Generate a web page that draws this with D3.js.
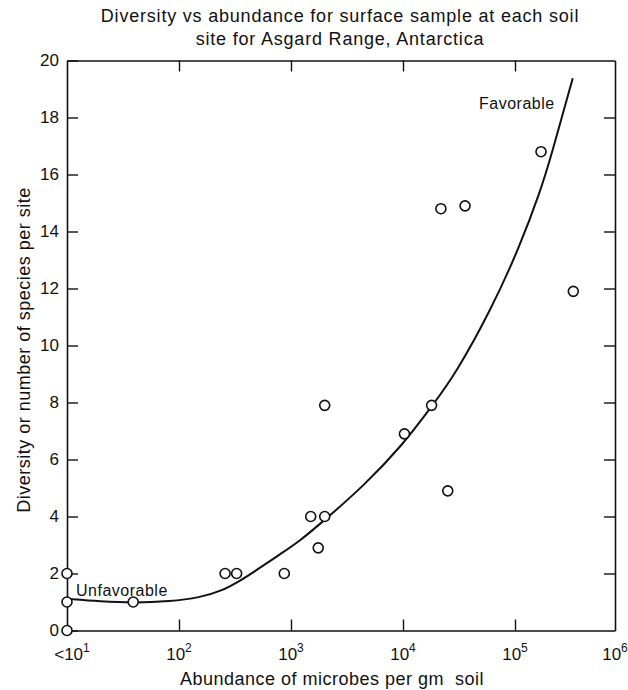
<!DOCTYPE html>
<html>
<head>
<meta charset="utf-8">
<script src="https://cdn.jsdelivr.net/npm/d3@7"></script>
<style>
  body { margin: 0; background: #fff; }
  text { font-family: "Liberation Sans", Arial, sans-serif; fill: #111; white-space: pre; }
</style>
</head>
<body>
<div id="viz"></div>
<script>
// title / labels
var titleLines = ["Diversity vs abundance for surface sample at each soil",
                  "site for Asgard Range, Antarctica"];
var xTitle = "Abundance of microbes per gm  soil";
var yTitle = "Diversity or number of species per site";

// ticks
var xTicks = [10, 1e2, 1e3, 1e4, 1e5, 1e6];
var xTickBase = ["<10", "10", "10", "10", "10", "10"];
var xTickExp = ["1", "2", "3", "4", "5", "6"];
var yTicks = [0, 2, 4, 6, 8, 10, 12, 14, 16, 18, 20];

// soil sites (abundance per gm, number of species)
var abundance = [10, 10, 10, 39, 258, 327, 871, 1500, 1750, 2000, 2000, 10300, 18000, 21800, 25100, 35800, 182000, 383000];
var diversity = [0, 1, 2, 1, 2, 2, 2, 4, 2.9, 4, 7.9, 6.9, 7.9, 14.8, 4.9, 14.9, 16.8, 11.9];

// hand drawn trend curve
var curveAbundance = [10, 20, 39, 83, 155, 234, 351, 525, 794, 1200, 2000, 4400, 10000, 18500, 29100, 61100, 112000, 178000, 224000, 378000];
var curveDiversity = [1.11, 1.02, 0.97, 1.02, 1.16, 1.37, 1.74, 2.19, 2.67, 3.14, 3.88, 5.05, 6.52, 7.92, 8.97, 11.25, 13.49, 15.39, 16.51, 19.38];

var w = 628, h = 690;
var mLeft = 67, mRight = 615, mTop = 60.5, mBottom = 630.5;

var svg = d3.select("#viz").append("svg")
  .attr("width", w)
  .attr("height", h);

// the drawn decades are not all the same length, last one is short
var x = d3.scaleLog().domain([10, 1e5, 1e6]).range([mLeft, 515, mRight]);
var y = d3.scaleLinear().domain([0, 20]).range([mBottom, mTop]);

function styleAxis(g) {
  g.select(".domain").attr("stroke", "#111").attr("stroke-width", 1.6);
  g.selectAll(".tick line").attr("stroke", "#111").attr("stroke-width", 1.4);
  g.selectAll("text").style("font-size", "17px").attr("fill", "#111")
    .style("font-family", "Liberation Sans, Arial, sans-serif");
}

svg.append("g")
  .attr("transform", "translate(0," + mBottom + ")")
  .call(d3.axisBottom(x).tickValues([1e2, 1e3, 1e4, 1e5]).tickSizeInner(-11).tickSizeOuter(0).tickFormat(""))
  .call(styleAxis);

svg.append("g")
  .attr("transform", "translate(0," + mTop + ")")
  .call(d3.axisTop(x).tickValues([1e2, 1e3, 1e4, 1e5]).tickSizeInner(-11).tickSizeOuter(0).tickFormat(""))
  .call(styleAxis);

svg.append("g")
  .attr("transform", "translate(" + mLeft + ",0)")
  .call(d3.axisLeft(y).tickValues(yTicks).tickSizeInner(-11).tickSizeOuter(0).tickPadding(8).tickFormat(d3.format("d")))
  .call(styleAxis);

svg.append("g")
  .attr("transform", "translate(" + mRight + ",0)")
  .call(d3.axisRight(y).tickValues(yTicks.slice(1, -1)).tickSizeInner(-11).tickSizeOuter(0).tickFormat(""))
  .call(styleAxis);

// x tick labels with superscripts
var xl = svg.append("g").selectAll("text")
  .data(xTicks)
  .enter().append("text")
  .attr("x", function(d, i) { return x(d) + (i == 0 ? 5 : 0); })
  .attr("y", 660)
  .attr("text-anchor", "middle")
  .style("font-size", "17px");
xl.append("tspan").text(function(d, i) { return xTickBase[i]; });
xl.append("tspan").attr("dy", -8).style("font-size", "12px").text(function(d, i) { return xTickExp[i]; });

// trend curve
var line = d3.line()
  .x(function(d) { return x(d[0]); })
  .y(function(d) { return y(d[1]); })
  .curve(d3.curveBasis);

svg.append("path")
  .datum(d3.zip(curveAbundance, curveDiversity))
  .attr("d", line)
  .attr("fill", "none")
  .attr("stroke", "#111")
  .attr("stroke-width", 2);

// sites
svg.selectAll("circle")
  .data(d3.zip(abundance, diversity))
  .enter().append("circle")
  .attr("cx", function(d) { return x(d[0]); })
  .attr("cy", function(d) { return y(d[1]); })
  .attr("r", 5)
  .attr("fill", "#fff")
  .attr("stroke", "#111")
  .attr("stroke-width", 1.6);

svg.append("text").attr("x", 76).attr("y", 596)
  .style("font-size", "16px").style("letter-spacing", "0.5px").text("Unfavorable");
svg.append("text").attr("x", 479).attr("y", 109)
  .style("font-size", "16px").style("letter-spacing", "0.5px").text("Favorable");

svg.selectAll(".title")
  .data(titleLines)
  .enter().append("text")
  .attr("class", "title")
  .attr("x", 340)
  .attr("y", function(d, i) { return 22 + i * 23; })
  .attr("text-anchor", "middle")
  .style("font-size", "18px")
  .style("letter-spacing", "0.8px")
  .text(function(d) { return d; });

svg.append("text")
  .attr("x", 332)
  .attr("y", 685)
  .attr("text-anchor", "middle")
  .style("font-size", "18px")
  .style("letter-spacing", "0.5px")
  .text(xTitle);

svg.append("text")
  .attr("transform", "translate(30,350) rotate(-90)")
  .attr("text-anchor", "middle")
  .style("font-size", "18px")
  .style("letter-spacing", "0.5px")
  .text(yTitle);
</script>
</body>
</html>
